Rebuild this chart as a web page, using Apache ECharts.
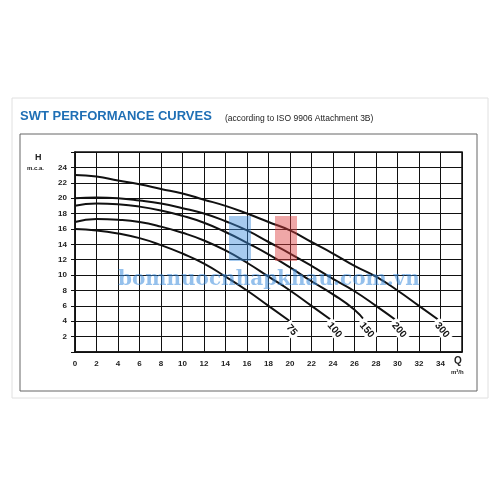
<!DOCTYPE html><html><head><meta charset="utf-8"><script src="https://cdn.jsdelivr.net/npm/echarts@6/dist/echarts.min.js"></script>
<style>html,body{margin:0;padding:0;background:#fff}#c{width:500px;height:500px}</style></head><body><div id="c"></div><script>
const names=['75','100','150','200','300'];
const s75=[[0,16],[2,15.8],[4,15.4],[6,14.8],[8,13.9],[10,12.8],[12,11.5],[14,9.8],[16,8],[18,6],[20,4]];
const s100=[[0,16.9],[2,17.3],[4,17.2],[6,16.9],[8,16.3],[10,15.5],[12,14.5],[14,13.2],[16,11.6],[18,9.8],[20,8],[22,6],[24,4]];
const s150=[[0,19],[2,19.3],[4,19.2],[6,18.9],[8,18.4],[10,17.7],[12,16.8],[14,15.6],[16,14.2],[18,12.7],[20,11],[22,9.2],[24,7.5],[26,5.5],[27,4]];
const s200=[[0,20],[2,20.1],[4,20],[6,19.7],[8,19.3],[10,18.7],[12,18],[14,17],[16,15.8],[18,14.3],[20,12.8],[22,11.2],[24,9.5],[26,7.9],[28,6],[30,4]];
const s300=[[0,23],[2,22.8],[4,22.3],[6,21.8],[8,21.2],[10,20.6],[12,19.8],[14,19],[16,18],[18,16.9],[20,15.8],[22,14.3],[24,12.8],[26,11.2],[28,9.8],[30,8],[32,6],[34,4]];
const all=[s75,s100,s150,s200,s300];
const F='Liberation Sans';
const series=all.map((d,i)=>({type:'line',name:names[i],smooth:true,symbol:'none',z:5,
 lineStyle:{color:'#111',width:2},
 data:d.map((p,j)=>j===d.length-1?{value:p,symbol:'circle',symbolSize:1,label:{show:true,formatter:names[i],rotate:-50,offset:[12,14],color:'#111',fontSize:10,fontFamily:F,fontWeight:'bold',backgroundColor:'#fff',padding:[1,3]}}:p)}));
const ch=echarts.init(document.getElementById('c'));
ch.setOption({animation:false,
 grid:{left:75,top:152,right:38,bottom:148},
 xAxis:{type:'value',min:0,max:36,interval:2,axisLine:{lineStyle:{color:'#111',width:1.5}},axisTick:{show:false},
  splitLine:{lineStyle:{color:'#111',width:1}},axisLabel:{color:'#222',fontSize:8,fontFamily:F,fontWeight:'bold',formatter:v=>v>34?'':v}},
 yAxis:{type:'value',min:0,max:26,interval:2,axisLine:{show:true,lineStyle:{color:'#111',width:1.5}},axisTick:{show:true,length:4,lineStyle:{color:'#111'}},
  splitLine:{lineStyle:{color:'#111',width:1}},axisLabel:{color:'#222',fontSize:8,fontFamily:F,fontWeight:'bold',formatter:v=>(v===0||v>24)?'':v}},
 graphic:[
  {type:'rect',shape:{x:12,y:98,width:476,height:300},style:{fill:'none',stroke:'#e0e0e0',lineWidth:1},z:-1},
  {type:'rect',shape:{x:20,y:134,width:457,height:257},style:{fill:'none',stroke:'#666',lineWidth:1},z:-1},
  {type:'rect',shape:{x:75,y:152,width:387,height:200},style:{fill:'none',stroke:'#111',lineWidth:1.5},z:10},
  {type:'text',left:20,top:110,style:{text:'SWT PERFORMANCE CURVES',fill:'#1f6fb5',font:'bold 13px '+F}},
  {type:'text',left:225,top:114,style:{text:'(according to ISO 9906 Attachment 3B)',fill:'#222',font:'8.5px '+F}},
  {type:'text',left:35,top:153,style:{text:'H',fill:'#222',font:'bold 9px '+F}},
  {type:'text',left:27,top:165,style:{text:'m.c.a.',fill:'#222',font:'bold 6px '+F}},
  {type:'text',left:454,top:356,style:{text:'Q',fill:'#222',font:'bold 10px '+F}},
  {type:'text',left:451,top:369,style:{text:'m³/h',fill:'#222',font:'bold 6px '+F}},
  {type:'rect',shape:{x:229,y:216,width:22,height:45},style:{fill:'rgba(60,140,220,0.45)'},z:20},
  {type:'rect',shape:{x:275,y:216,width:22,height:45},style:{fill:'rgba(220,60,60,0.45)'},z:20},
  {type:'text',left:118,top:270,style:{text:'bomnuocnhapkhau.com.vn',fill:'rgba(60,140,220,0.55)',font:'bold 20px "DejaVu Serif"'},z:20}
 ],
 series});
</script></body></html>
